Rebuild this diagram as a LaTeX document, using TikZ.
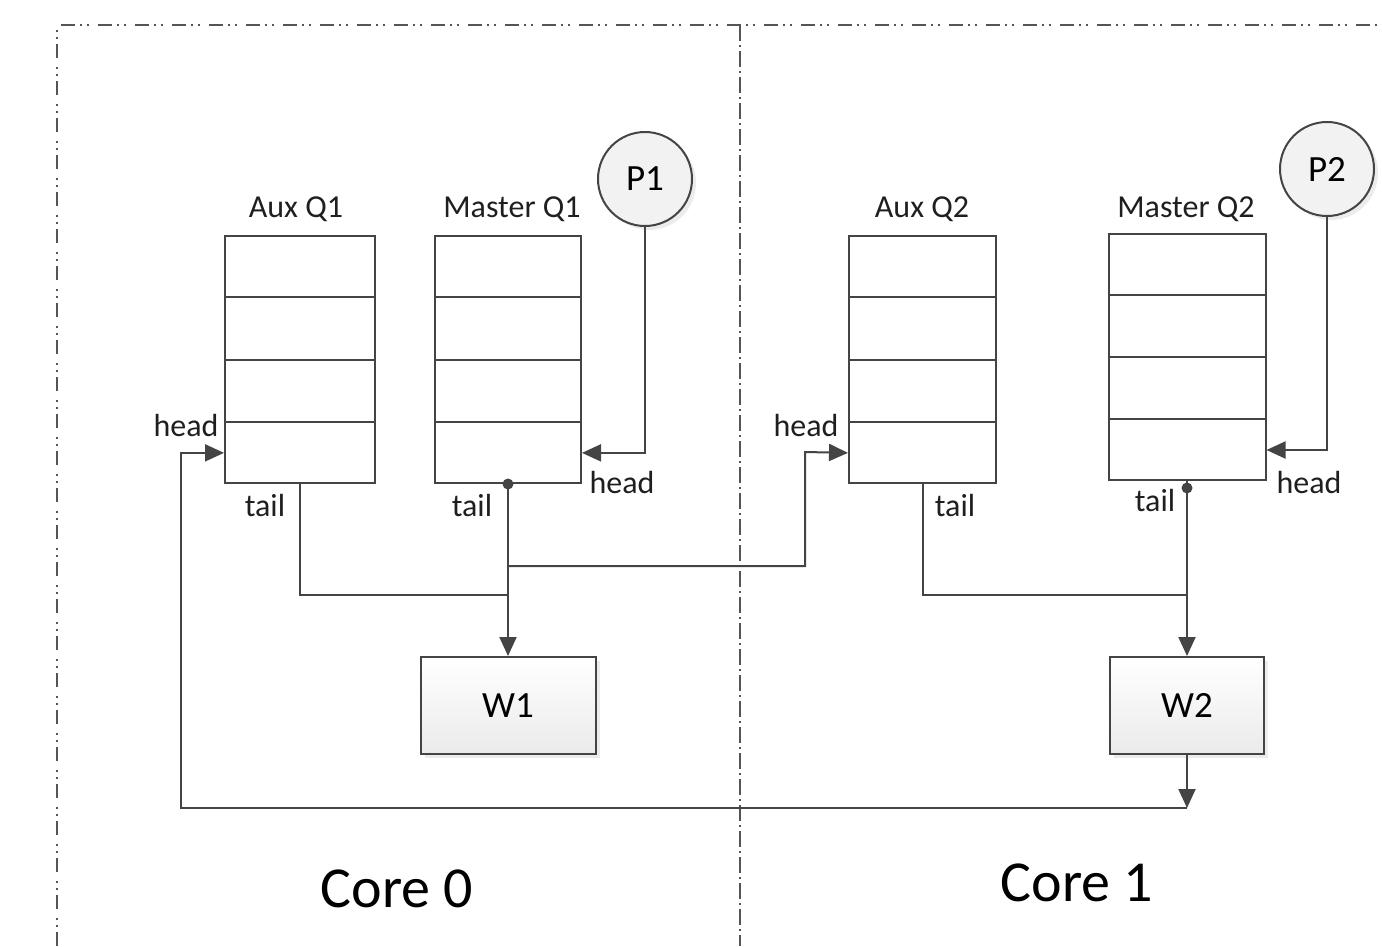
\documentclass[tikz,border=0pt]{standalone}
\usepackage{fontspec}
\setmainfont{Carlito}
\usetikzlibrary{arrows.meta,calc,shadows}
\definecolor{ln}{HTML}{444444}
\definecolor{fr}{HTML}{555555}
\begin{document}
\begin{tikzpicture}[x=1pt,y=-1pt,
  line/.style={draw=ln,line width=2pt},
  arr/.style={line,-{Triangle[length=19pt,width=17pt]}},
  queue/.style={draw=ln,line width=2pt,fill=white,minimum height=247pt,inner sep=0pt},
  lbl/.style={font=\fontsize{32}{36}\selectfont,text=black!88,inner sep=0pt},
  wbox/.style={draw=ln,line width=2pt,top color=white,bottom color=black!8,minimum height=97pt,inner sep=0pt,
    font=\fontsize{37}{40}\selectfont,drop shadow={shadow xshift=4pt,shadow yshift=-4pt,fill=black!15}},
  pcirc/.style={circle,draw=ln,line width=2pt,fill=black!5,minimum size=94pt,inner sep=0pt,
    font=\fontsize{37}{40}\selectfont,drop shadow={shadow xshift=4pt,shadow yshift=-4pt,fill=black!15}},
  corelbl/.style={font=\fontsize{58}{64}\selectfont,inner sep=0pt},
  frameA/.style={draw=fr,line width=1.7pt,dash pattern=on 14pt off 5pt on 2pt off 5pt on 2pt off 9pt},
  frameB/.style={draw=fr,line width=1.7pt,dash pattern=on 16pt off 4pt on 2pt off 4pt},
]
\useasboundingbox (0,0) rectangle (1382,946);

% frame
\draw[frameA] (57,946) -- (57,25) -- (1382,25);
\draw[frameB] (740,25) -- (740,946);

% queues
\node[queue,minimum width=150pt] (aq1) at (300,359.5) {};
\node[queue,minimum width=146pt] (mq1) at (508,359.5) {};
\node[queue,minimum width=147pt] (aq2) at (922.5,359.5) {};
\node[queue,minimum width=157pt,minimum height=246pt] (mq2) at (1187,357) {};
\foreach \q in {aq1,mq1,aq2,mq2}{
  \foreach \f in {0.25,0.5,0.75}{
    \draw[line] ($(\q.north west)!\f!(\q.south west)$) -- ($(\q.north east)!\f!(\q.south east)$);
  }
}
\coordinate (aq1h) at ($(aq1.north west)!0.875!(aq1.south west)$);
\coordinate (mq1h) at ($(mq1.north east)!0.875!(mq1.south east)$);
\coordinate (aq2h) at ($(aq2.north west)!0.875!(aq2.south west)$);
\coordinate (mq2h) at ($(mq2.north east)!0.875!(mq2.south east)$);

% queue titles
\node[lbl] (taq1) at (296,209) {Aux Q1};
\node[lbl] (tmq1) at (512,209) {Master Q1};
\node[lbl] (taq2) at (922,209) {Aux Q2};
\node[lbl] (tmq2) at (1186,209) {Master Q2};

% producers and workers
\node[pcirc] (p1) at (645,179) {P1};
\node[pcirc] (p2) at (1327,169) {P2};
\node[wbox,minimum width=175pt] (w1) at (508,705.5) {W1};
\node[wbox,minimum width=154pt] (w2) at (1187,705.5) {W2};

% connectors
\draw[arr] (p1.south) |- (mq1h);
\draw[arr] (p2.south) |- (mq2h);

\draw[arr] (mq1.south) -- (w1.north);
\fill[ln] (mq1.south) circle (5.5pt);
\coordinate (j1) at (508,595);
\draw[line] (aq1.south) |- (j1);
\coordinate (j2) at (508,566);
\coordinate (k2) at (805,452);
\draw[arr] (j2) -| (k2) -- (aq2h);

\coordinate (mq2t) at ($(mq2.south)+(0,7)$);
\draw[line] (mq2.south) -- (mq2t);
\draw[arr] (mq2t) -- (w2.north);
\fill[ln] (mq2t) circle (5.5pt);
\coordinate (j3) at (1187,595);
\draw[line] (aq2.south) |- (j3);

\coordinate (b) at (1187,808);
\coordinate (c) at (181,808);
\draw[arr] (w2.south) -- (b);
\draw[arr] (b) -- (c) |- (aq1h);

% head / tail labels
\node[lbl] (h1) at (186,425) {head};
\node[lbl] (t1) at (265,505) {tail};
\node[lbl] (t2) at (472,505) {tail};
\node[lbl] (h2) at (622,482) {head};
\node[lbl] (h3) at (806,425) {head};
\node[lbl] (t3) at (955,505) {tail};
\node[lbl] (t4) at (1155,500) {tail};
\node[lbl] (h4) at (1309,482) {head};

% core labels
\node[corelbl] (c0) at (397,889) {Core 0};
\node[corelbl] (c1) at (1077,883) {Core 1};
\end{tikzpicture}
\end{document}
